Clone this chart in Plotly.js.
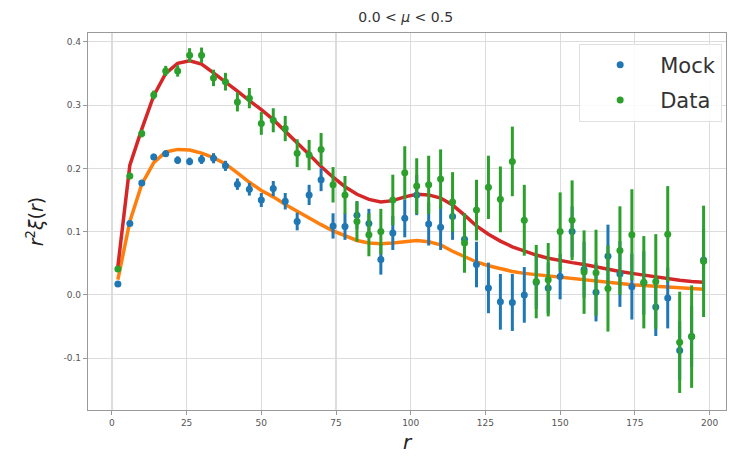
<!DOCTYPE html>
<html>
<head>
<meta charset="utf-8">
<script src="https://cdn.plot.ly/plotly-3.0.1.min.js"></script>
<style>html,body{margin:0;padding:0;background:#fff;}#chart{width:731px;height:458px;}</style>
</head>
<body>
<div id="chart"></div>
<script>
// separation r (bin centres)
const rBins = [2,6,10,14,18,22,26,30,34,38,42,46,50,54,58,62,66,70,74,78,82,86,90,94,98,102,106,110,114,118,122,126,130,134,138,142,146,150,154,158,162,166,170,174,178,182,186,190,194,198];

// Mock measurements r^2 xi(r)
const mockVals = [0.017,0.113,0.177,0.218,0.223,0.213,0.211,0.214,0.216,0.204,0.175,0.167,0.150,0.168,0.148,0.116,0.158,0.182,0.109,0.108,0.126,0.113,0.056,0.098,0.121,0.158,0.112,0.107,0.124,0.088,0.048,0.011,-0.011,-0.012,0.000,0.020,0.011,0.029,0.100,0.040,0.004,0.061,0.033,0.013,0.019,-0.019,-0.005,-0.088,-0.066,0.055];
const mockErr = [0.003,0.004,0.004,0.005,0.005,0.006,0.006,0.007,0.008,0.008,0.009,0.010,0.011,0.012,0.013,0.014,0.016,0.018,0.020,0.021,0.022,0.023,0.024,0.027,0.030,0.032,0.034,0.036,0.037,0.038,0.036,0.040,0.044,0.045,0.044,0.042,0.040,0.036,0.040,0.044,0.046,0.050,0.052,0.052,0.050,0.046,0.048,0.046,0.048,0.050];

// Data measurements r^2 xi(r)
const dataVals = [0.041,0.188,0.255,0.316,0.354,0.354,0.379,0.379,0.343,0.337,0.305,0.311,0.271,0.276,0.263,0.224,0.221,0.230,0.174,0.158,0.116,0.095,0.100,0.150,0.193,0.172,0.174,0.183,0.147,0.082,0.134,0.170,0.151,0.211,0.118,0.021,0.024,0.100,0.118,0.036,0.035,0.010,0.070,0.095,0.020,0.021,0.096,-0.075,-0.066,0.053];
const dataErr = [0.004,0.005,0.006,0.007,0.008,0.009,0.011,0.012,0.013,0.014,0.015,0.016,0.018,0.019,0.020,0.022,0.024,0.026,0.028,0.030,0.032,0.034,0.036,0.040,0.042,0.044,0.046,0.047,0.047,0.047,0.048,0.050,0.052,0.055,0.056,0.058,0.058,0.062,0.063,0.066,0.068,0.068,0.070,0.072,0.073,0.075,0.076,0.080,0.081,0.088];

// Model curves
const mockModel = [0.024,0.116,0.175,0.209,0.226,0.230,0.229,0.224,0.217,0.207,0.193,0.178,0.165,0.155,0.143,0.132,0.121,0.111,0.101,0.093,0.086,0.082,0.081,0.082,0.084,0.086,0.084,0.079,0.069,0.060,0.052,0.046,0.041,0.037,0.034,0.032,0.030,0.028,0.026,0.024,0.021,0.019,0.018,0.016,0.015,0.014,0.012,0.011,0.010,0.009];
const dataModel = [0.045,0.205,0.262,0.315,0.350,0.366,0.370,0.365,0.351,0.337,0.322,0.307,0.293,0.277,0.259,0.241,0.222,0.203,0.186,0.171,0.159,0.151,0.147,0.149,0.155,0.159,0.158,0.153,0.142,0.126,0.109,0.096,0.085,0.076,0.069,0.063,0.058,0.054,0.051,0.048,0.044,0.040,0.037,0.034,0.031,0.028,0.025,0.023,0.021,0.020];

const xTicks = [0,25,50,75,100,125,150,175,200];
const yTicks = [-0.1,0.0,0.1,0.2,0.3,0.4];

const traces = [
  {x: rBins, y: mockModel, mode: 'lines', line: {color: '#ff7f0e', width: 3.5}, showlegend: false, hoverinfo: 'skip'},
  {x: rBins, y: dataModel, mode: 'lines', line: {color: '#d62728', width: 3.5}, showlegend: false, hoverinfo: 'skip'},
  {x: rBins, y: mockVals, name: 'Mock', legendgroup: 'mock', mode: 'markers', marker: {color: '#1f77b4', size: 7},
   error_y: {type: 'data', array: mockErr, visible: true, color: '#1f77b4', thickness: 3, width: 0}},
  {x: rBins, y: dataVals, name: 'Data', legendgroup: 'data', mode: 'markers', marker: {color: '#2ca02c', size: 7},
   error_y: {type: 'data', array: dataErr, visible: true, color: '#2ca02c', thickness: 3, width: 0}}
];

const axisCommon = {
  showgrid: true, gridcolor: '#dcdcdc', gridwidth: 1.2,
  showline: true, linecolor: '#9a9a9a', linewidth: 1.2, mirror: true,
  ticks: 'outside', ticklen: 4, tickcolor: '#9a9a9a',
  tickfont: {family: 'DejaVu Sans', size: 9, color: '#555'},
  zeroline: false
};

const layout = {
  width: 731, height: 458,
  margin: {l: 88, r: 5, t: 33, b: 48},
  paper_bgcolor: '#fff', plot_bgcolor: '#fff',
  title: {text: '0.0 &lt; <i>μ</i> &lt; 0.5', font: {family: 'DejaVu Sans', size: 14, color: '#333'}, x: 0.555, xanchor: 'center', y: 0.962, yanchor: 'middle'},
  xaxis: Object.assign({}, axisCommon, {range: [-8, 205.5], tickvals: xTicks, ticktext: xTicks.map(String),
    title: {text: '<i>r</i>', font: {family: 'DejaVu Sans', size: 20, color: '#222'}, standoff: 8}}),
  yaxis: Object.assign({}, axisCommon, {range: [-0.182, 0.414], tickvals: yTicks, ticktext: yTicks.map(v => v.toFixed(1)),
    title: {text: '<i>r</i><sup>2</sup><i>ξ</i>(<i>r</i>)', font: {family: 'DejaVu Sans', size: 19, color: '#222'}, standoff: 14}}),
  legend: {x: 0.994, y: 0.972, xanchor: 'right', yanchor: 'top', bgcolor: 'rgba(255,255,255,0.85)', bordercolor: '#e0e0e0', borderwidth: 1,
    font: {family: 'DejaVu Sans', size: 21, color: '#333'}, itemwidth: 70, traceorder: 'grouped', tracegroupgap: 5},
  showlegend: true
};

Plotly.newPlot('chart', traces, layout, {displayModeBar: false, staticPlot: true});
</script>
</body>
</html>
